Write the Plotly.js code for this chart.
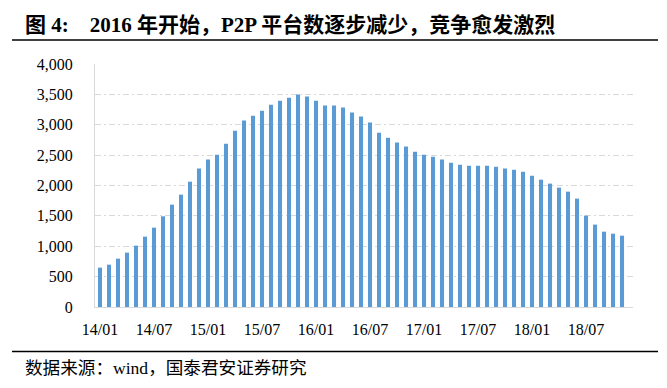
<!DOCTYPE html>
<html>
<head>
<meta charset="utf-8">
<script src="https://cdn.plot.ly/plotly-3.0.1.min.js"></script>
<style>html,body{margin:0;padding:0;background:#fff;}#chart{width:667px;height:388px;}</style>
</head>
<body>
<div id="chart"></div>
<script>
var months = ["14/01","14/02","14/03","14/04","14/05","14/06","14/07","14/08","14/09","14/10","14/11","14/12",
"15/01","15/02","15/03","15/04","15/05","15/06","15/07","15/08","15/09","15/10","15/11","15/12",
"16/01","16/02","16/03","16/04","16/05","16/06","16/07","16/08","16/09","16/10","16/11","16/12",
"17/01","17/02","17/03","17/04","17/05","17/06","17/07","17/08","17/09","17/10","17/11","17/12",
"18/01","18/02","18/03","18/04","18/05","18/06","18/07","18/08","18/09","18/10","18/11"];
var platforms = [648,697,796,895,1010,1158,1306,1493,1685,1849,2063,2278,
2426,2508,2689,2903,3068,3150,3232,3331,3397,3446,3496,3463,
3397,3315,3315,3282,3200,3134,3035,2870,2788,2706,2640,2557,
2508,2475,2426,2376,2343,2327,2327,2327,2310,2278,2261,2228,
2162,2096,2031,1965,1899,1784,1504,1356,1240,1207,1174];
var xTicks = ["14/01","14/07","15/01","15/07","16/01","16/07","17/01","17/07","18/01","18/07"];
var titleText = "图 4:&nbsp;&nbsp;&nbsp;&nbsp;2016 年开始，P2P 平台数逐步减少，竞争愈发激烈";
var sourceText = "数据来源：wind，国泰君安证券研究";

var serif = "'Liberation Serif', 'Times New Roman', 'Noto Sans CJK SC', serif";
var W = 667, H = 388, L = 95, R = 34, T = 64, B = 81;
var pw = W - L - R, ph = H - T - B;
function px2x(p){ return (p - L) / pw; }
function py2y(p){ return (H - B - p) / ph; }

var data = [{
  type: 'bar',
  x: months,
  y: platforms,
  marker: {color: '#5B9BD5'},
  hoverinfo: 'x+y'
}];

var layout = {
  width: W, height: H,
  margin: {l: L, r: R, t: T, b: B, pad: 0},
  paper_bgcolor: '#fff', plot_bgcolor: '#fff',
  bargap: 0.55,
  showlegend: false,
  font: {family: serif, color: '#000'},
  xaxis: {
    type: 'category',
    categoryorder: 'array', categoryarray: months,
    range: [-0.556, 59.22],
    tickmode: 'array', tickvals: xTicks, ticktext: xTicks,
    ticks: '', showgrid: false,
    showline: true, linecolor: '#d9d9d9', linewidth: 1,
    tickfont: {family: serif, size: 16, color: '#000'},
    ticklabelstandoff: 8,
    fixedrange: true
  },
  yaxis: {
    range: [0, 4000], dtick: 500, tick0: 0,
    tickformat: ',d',
    ticks: '', showgrid: true, gridcolor: '#d9d9d9', gridwidth: 1, griddash: '6px,3px,2px,3px',
    showline: true, linecolor: '#d9d9d9', linewidth: 1,
    zeroline: false,
    tickfont: {family: serif, size: 16, color: '#000'},
    ticklabelstandoff: 18,
    fixedrange: true
  },
  title: {
    text: '<b>' + titleText + '</b>',
    font: {family: serif, size: 21, color: '#000'},
    x: 25 / W, xanchor: 'left', xref: 'container',
    y: 1 - 25 / H, yanchor: 'middle', yref: 'container'
  },
  shapes: [
    {type: 'line', xref: 'paper', yref: 'paper', x0: px2x(12), x1: px2x(658), y0: py2y(40), y1: py2y(40), line: {color: '#000', width: 1.5}},
    {type: 'line', xref: 'paper', yref: 'paper', x0: px2x(12), x1: px2x(658), y0: py2y(351.5), y1: py2y(351.5), line: {color: '#000', width: 1.5}}
  ],
  annotations: [
    {text: sourceText, xref: 'paper', yref: 'paper', x: px2x(23), y: py2y(368), xanchor: 'left', yanchor: 'middle', showarrow: false,
     font: {family: serif, size: 17.6, color: '#000'}}
  ]
};

Plotly.newPlot('chart', data, layout, {displayModeBar: false, staticPlot: true});
</script>
</body>
</html>
